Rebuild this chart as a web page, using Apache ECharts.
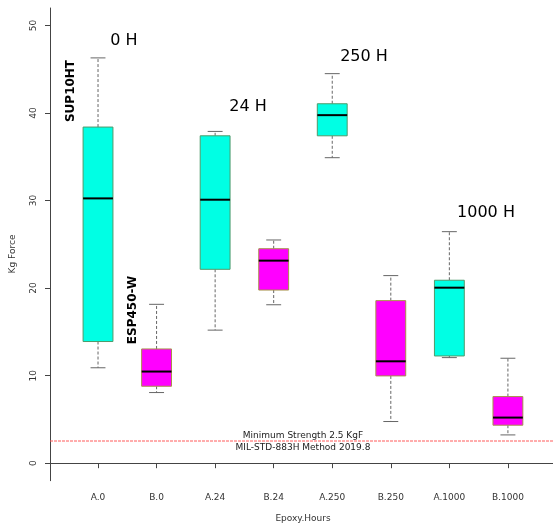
<!DOCTYPE html>
<html>
<head>
<meta charset="utf-8">
<script src="https://cdn.jsdelivr.net/npm/echarts@6/dist/echarts.min.js"></script>
<style>html,body{margin:0;padding:0;background:#fff}#c{width:553px;height:524px}</style>
</head>
<body>
<div id="c"></div>
<script>
const categories = ['A.0','B.0','A.24','B.24','A.250','B.250','A.1000','B.1000'];
const lowWhisker = [10.9, 8.07, 15.2, 18.1, 34.9, 4.76, 12.06, 3.23];
const q1 = [13.9, 8.79, 22.15, 19.78, 37.4, 9.97, 12.25, 4.34];
const median = [30.25, 10.47, 30.1, 23.14, 39.76, 11.64, 20.05, 5.21];
const q3 = [38.4, 13.05, 37.4, 24.5, 41.06, 18.57, 20.9, 7.61];
const highWhisker = [46.3, 18.15, 37.9, 25.5, 44.5, 21.43, 26.45, 11.99];
const yTicks = [0, 10, 20, 30, 40, 50];
const minStrength = 2.5;

const FONT = 'DejaVu Sans';
const X_MIN = 0.18, X_MAX = 8.77;
const data = categories.map((c, i) => [i + 1, lowWhisker[i], q1[i], median[i], q3[i], highWhisker[i]]);

function renderItem(params, api) {
  const x = api.value(0);
  const idx = params.dataIndex;
  const isA = categories[idx].startsWith('A');
  const fill = isA ? '#00ffe4' : '#ff00ff';
  const border = isA ? '#4f9a6a' : '#a8904a';
  const pLow = api.coord([x, api.value(1)]);
  const pQ1 = api.coord([x, api.value(2)]);
  const pMed = api.coord([x, api.value(3)]);
  const pQ3 = api.coord([x, api.value(4)]);
  const pHigh = api.coord([x, api.value(5)]);
  const bw = api.size([0.51, 0])[0];
  const cw = bw / 2;
  const cx = pMed[0];
  const wStyle = { stroke: '#666', lineWidth: 1, lineDash: [3, 2] };
  const cStyle = { stroke: '#666', lineWidth: 1 };
  return {
    type: 'group',
    children: [
      { type: 'line', shape: { x1: cx, y1: pQ3[1], x2: cx, y2: pHigh[1] }, style: wStyle },
      { type: 'line', shape: { x1: cx, y1: pQ1[1], x2: cx, y2: pLow[1] }, style: wStyle },
      { type: 'line', shape: { x1: cx - cw / 2, y1: pHigh[1], x2: cx + cw / 2, y2: pHigh[1] }, style: cStyle },
      { type: 'line', shape: { x1: cx - cw / 2, y1: pLow[1], x2: cx + cw / 2, y2: pLow[1] }, style: cStyle },
      { type: 'rect', shape: { x: cx - bw / 2, y: pQ3[1], width: bw, height: pQ1[1] - pQ3[1] }, style: { fill: fill, stroke: border, lineWidth: 1 } },
      { type: 'line', shape: { x1: cx - bw / 2, y1: pMed[1], x2: cx + bw / 2, y2: pMed[1] }, style: { stroke: '#000', lineWidth: 2 } }
    ]
  };
}

const chart = echarts.init(document.getElementById('c'), null, { renderer: 'canvas' });
const txt = (text, x, y, size, extra) => ({
  type: 'text', x: x, y: y, rotation: (extra && extra.rotation) || 0,
  style: Object.assign({ text: text, fontFamily: FONT, fontSize: size, fill: '#000', align: 'center', verticalAlign: 'middle' }, (extra && extra.style) || {})
});

chart.setOption({
  animation: false,
  backgroundColor: '#fff',
  grid: { left: 50, right: 0, top: 8, bottom: 43.3, containLabel: false },
  xAxis: {
    type: 'value', min: X_MIN, max: X_MAX,
    axisLine: { show: true, lineStyle: { color: '#444', width: 1 } },
    axisTick: { show: true, customValues: [1, 2, 3, 4, 5, 6, 7, 8], length: 5, lineStyle: { color: '#444' } },
    axisLabel: { customValues: [1, 2, 3, 4, 5, 6, 7, 8], formatter: v => categories[Math.round(v) - 1] || '', fontFamily: FONT, fontSize: 9, color: '#333', margin: 12 },
    splitLine: { show: false }
  },
  yAxis: {
    type: 'value', min: -2, max: 52,
    axisLine: { show: true, lineStyle: { color: '#444', width: 1 } },
    axisTick: { show: true, customValues: yTicks, length: 5, lineStyle: { color: '#444' } },
    axisLabel: { customValues: yTicks, rotate: 90, fontFamily: FONT, fontSize: 9, color: '#333', margin: 12 },
    splitLine: { show: false }
  },
  series: [
    {
      type: 'custom',
      renderItem: renderItem,
      data: data,
      encode: { x: 0, y: [1, 2, 3, 4, 5] },
      clip: false,
      z: 2
    },
    {
      type: 'custom',
      data: [[X_MIN, minStrength, X_MAX]],
      encode: { x: [0, 2], y: 1 },
      silent: true,
      z: 1,
      renderItem: function (params, api) {
        const p0 = api.coord([api.value(0), api.value(1)]);
        const p1 = api.coord([api.value(2), api.value(1)]);
        const y = Math.round(p0[1]);
        return { type: 'line', shape: { x1: p0[0], y1: y, x2: p1[0], y2: y }, style: { stroke: '#ff5a5a', lineWidth: 1, lineDash: [3, 1] } };
      }
    }
  ],
  graphic: [
    txt('Kg Force', 13, 254, 9, { rotation: Math.PI / 2, style: { fill: '#333' } }),
    txt('Epoxy.Hours', 303, 519, 9, { style: { fill: '#333' } }),
    txt('0 H', 124, 41, 16),
    txt('24 H', 248, 107, 16),
    txt('250 H', 364, 57, 16),
    txt('1000 H', 486, 213, 16),
    txt('SUP10HT', 71, 91, 12, { rotation: Math.PI / 2, style: { fontWeight: 'bold' } }),
    txt('ESP450-W', 133, 310, 12, { rotation: Math.PI / 2, style: { fontWeight: 'bold' } }),
    txt('Minimum Strength 2.5 KgF', 303, 436, 9, { style: { fill: '#222' } }),
    txt('MIL-STD-883H Method 2019.8', 303, 448, 9, { style: { fill: '#222' } })
  ]
});
</script>
</body>
</html>
